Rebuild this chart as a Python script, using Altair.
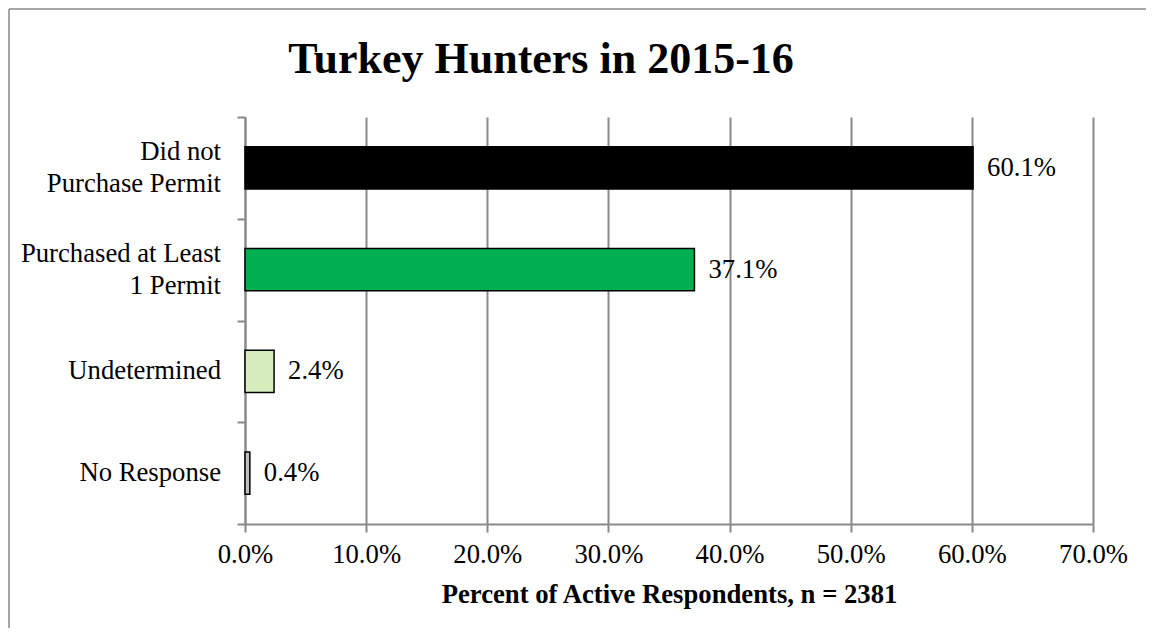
import altair as alt
import pandas as pd

categories = ["Did not\nPurchase Permit", "Purchased at Least\n1 Permit", "Undetermined", "No Response"]
values = [60.1, 37.1, 2.4, 0.4]
fill_colors = ["#000000", "#00B050", "#d8edbd", "#bfbfbf"]
labels = ["60.1%", "37.1%", "2.4%", "0.4%"]
x_ticks = [0, 10, 20, 30, 40, 50, 60, 70]
chart_title = "Turkey Hunters in 2015-16"
x_title = "Percent of Active Respondents, n = 2381"

df = pd.DataFrame({"cat": categories, "val": values, "color": fill_colors, "label": labels})

W, H = 848, 407
FONT = "Liberation Serif"
FS = 26.7
GRAY = "#898989"

y_enc = alt.Y(
    "cat:N",
    sort=categories,
    scale=alt.Scale(paddingInner=0, paddingOuter=0),
    axis=alt.Axis(
        title=None, tickBand="extent", labels=False,
        tickSize=8, tickColor=GRAY, tickWidth=2,
        domainColor=GRAY, domainWidth=2, grid=False,
    ),
)
x_enc = alt.X(
    "val:Q",
    scale=alt.Scale(domain=[0, 70], nice=False),
    axis=alt.Axis(
        values=x_ticks, labelExpr="format(datum.value, '.1f') + '%'",
        title=x_title,
        titleFont=FONT, titleFontSize=FS, titleFontWeight="bold", titleColor="black",
        titlePadding=14,
        labelFont=FONT, labelFontSize=FS, labelColor="black", labelPadding=9,
        labelFlush=False,
        tickSize=8, tickColor=GRAY, tickWidth=2, domainColor=GRAY, domainWidth=2,
        grid=True, gridColor=GRAY, gridWidth=2,
    ),
)

base = alt.Chart(df)
bars = base.mark_bar(
    height=alt.RelativeBandSize(band=0.415), stroke="black", strokeWidth=1.5
).encode(x=x_enc, y=y_enc, fill=alt.Fill("color:N", scale=None))
texts = base.mark_text(
    align="left", baseline="middle", dx=14, font=FONT, fontSize=FS, color="black"
).encode(x=x_enc, y=y_enc, text="label:N")

# category labels (two-line ones are lifted so the block is centred on the band)
cat_two = base.transform_filter("indexof(datum.cat, '\\n') >= 0").mark_text(
    align="right", baseline="middle", font=FONT, fontSize=FS, color="black",
    lineBreak="\n", lineHeight=32, dy=-16,
).encode(x=alt.value(-24), y=y_enc, text="cat:N")
cat_one = base.transform_filter("indexof(datum.cat, '\\n') < 0").mark_text(
    align="right", baseline="middle", font=FONT, fontSize=FS, color="black",
).encode(x=alt.value(-24), y=y_enc, text="cat:N")

one = alt.Chart(pd.DataFrame({"a": [0]}))
left_border = one.mark_rule(color=GRAY, strokeWidth=1.5).encode(
    x=alt.value(-236), y=alt.value(-108), y2=alt.value(H + 200)
)
top_border = one.mark_rule(color=GRAY, strokeWidth=1.5).encode(
    x=alt.value(-236), x2=alt.value(W + 53), y=alt.value(-108)
)
title_text = one.mark_text(
    font=FONT, fontSize=44, fontWeight="bold", color="black",
    align="center", baseline="alphabetic",
).encode(x=alt.value(296), y=alt.value(-44), text=alt.value(chart_title))

chart = alt.layer(bars, texts, cat_two, cat_one, left_border, top_border, title_text).properties(
    width=W, height=H,
    padding={"left": 237, "top": 109, "right": 53, "bottom": 104},
    autosize=alt.AutoSizeParams(type="none"),
).configure_view(stroke=None)

chart.save("out.html", embed_options={"renderer": "svg", "actions": False})
